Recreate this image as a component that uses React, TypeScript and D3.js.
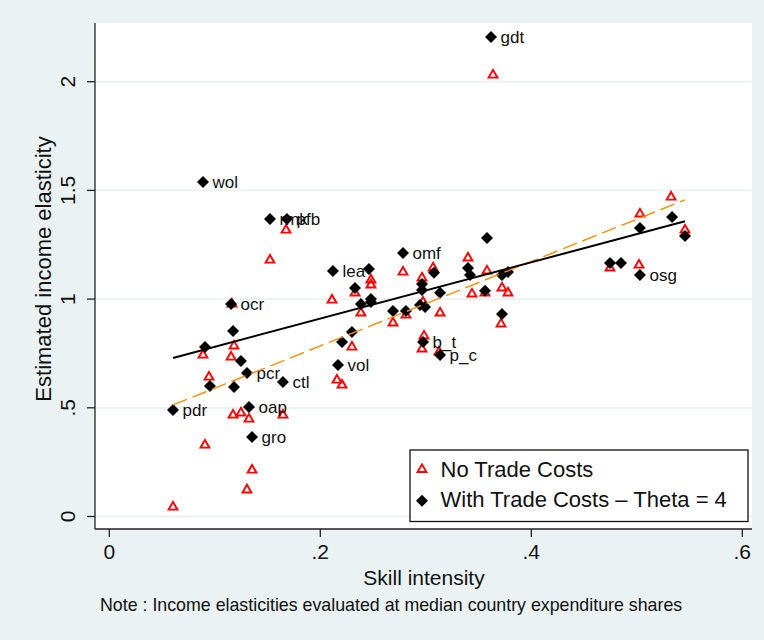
import React from "react";
import * as d3 from "d3";

// Skill intensity (x) and estimated income elasticity (y), no trade costs
const noTradeX = [
  0.1675, 0.1523, 0.2784, 0.2964, 0.248, 0.248, 0.3637, 0.5325, 0.503, 0.5457,
  0.5021, 0.4746, 0.34, 0.3069, 0.358, 0.2329, 0.2111, 0.2385, 0.2812, 0.2689,
  0.2974, 0.3135, 0.3438, 0.3561, 0.3722, 0.3779, 0.3713, 0.23, 0.2983, 0.2964,
  0.3125, 0.2158, 0.2206, 0.1182, 0.0888, 0.1154, 0.0945, 0.1173, 0.1248, 0.1324,
  0.1646, 0.0907, 0.1353, 0.1305, 0.0604, 0.1163,
];
const noTradeY = [
  1.322, 1.184, 1.129, 1.102, 1.093, 1.07, 2.035, 1.474, 1.396, 1.322,
  1.161, 1.148, 1.194, 1.148, 1.134, 1.033, 1.0, 0.941, 0.931, 0.895,
  0.991, 0.941, 1.028, 1.033, 1.056, 1.033, 0.89, 0.784, 0.835, 0.775,
  0.761, 0.632, 0.609, 0.789, 0.747, 0.738, 0.646, 0.471, 0.481, 0.453,
  0.471, 0.333, 0.218, 0.127, 0.048, 0.982,
];

// With trade costs (theta = 4); labelled sectors first
const withTradeX = [
  0.3618, 0.0888, 0.1523, 0.1684, 0.2784, 0.212, 0.1154, 0.1305, 0.1646, 0.2168,
  0.2974, 0.3135, 0.0604, 0.1324, 0.1353, 0.503,
  0.1173, 0.0907, 0.1248, 0.0954, 0.1182, 0.358, 0.2461, 0.2329, 0.3078, 0.2964,
  0.2964, 0.34, 0.3419, 0.3561, 0.3135, 0.248, 0.248, 0.2385, 0.2689, 0.2812,
  0.2945, 0.2993, 0.23, 0.2206, 0.3722, 0.3722, 0.3779, 0.4746, 0.485, 0.503,
  0.5334, 0.5457,
];
const withTradeY = [
  2.206, 1.539, 1.368, 1.368, 1.212, 1.129, 0.977, 0.66, 0.619, 0.697,
  0.803, 0.743, 0.49, 0.504, 0.366, 1.111,
  0.853, 0.78, 0.715, 0.6, 0.596, 1.281, 1.138, 1.051, 1.121, 1.07,
  1.042, 1.143, 1.111, 1.038, 1.029, 1.0, 0.987, 0.977, 0.945, 0.945,
  0.973, 0.964, 0.849, 0.803, 0.931, 1.111, 1.125, 1.166, 1.166, 1.327,
  1.378, 1.29,
];
const withTradeLabel = [
  "gdt", "wol", "rmk", "pfb", "omf", "lea", "ocr", "pcr", "ctl", "vol",
  "b_t", "p_c", "pdr", "oap", "gro", "osg",
];

// Linear fits: [intercept, slope]
const fitNoTrade = [0.396, 1.943];
const fitWithTrade = [0.651, 1.296];

const xTicks = [0, 0.2, 0.4, 0.6];
const xTickLabels = ["0", ".2", ".4", ".6"];
const yTicks = [0, 0.5, 1, 1.5, 2];
const yTickLabels = ["0", ".5", "1", "1.5", "2"];

const legendLabels = ["No Trade Costs", "With Trade Costs \u2013 Theta = 4"];

const W = 764;
const H = 640;
const BG = "#eaf2f3";
const FONT = "'Liberation Sans', Arial, Helvetica, sans-serif";

const plot = { left: 95, right: 752, top: 23, bottom: 529 };

const x = d3.scaleLinear().domain([0, 0.6]).range([109.3, 742.3]);
const y = d3.scaleLinear().domain([0, 2]).range([516.5, 81.7]);

const triPath = d3.symbol(d3.symbolTriangle, 34)() as string;
const diaPath = d3.symbol(d3.symbolSquare, 72)() as string;

function fitLine(coef: number[], xs: number[]) {
  const [x0, x1] = d3.extent(xs) as [number, number];
  const line = d3
    .line<number>()
    .x((v) => x(v))
    .y((v) => y(coef[0] + coef[1] * v));
  return line([x0, x1]) as string;
}

function Triangle({ cx, cy }: { cx: number; cy: number }) {
  return (
    <path
      d={triPath}
      transform={`translate(${cx},${cy + 1})`}
      fill="none"
      stroke="#ff0000"
      strokeWidth={1.9}
    />
  );
}

function Diamond({ cx, cy }: { cx: number; cy: number }) {
  return (
    <path d={diaPath} transform={`translate(${cx},${cy}) rotate(45)`} fill="#000" />
  );
}

export default function App() {
  return (
    <svg
      width={W}
      height={H}
      viewBox={`0 0 ${W} ${H}`}
      style={{ position: "absolute", left: 0, top: 0, display: "block" }}
      fontFamily={FONT}
    >
      <rect x={0} y={0} width={W} height={H} fill={BG} />
      <rect
        x={plot.left}
        y={plot.top}
        width={plot.right - plot.left}
        height={plot.bottom - plot.top}
        fill="#fff"
      />

      {/* horizontal grid */}
      {yTicks.map((t) => (
        <line
          key={`g${t}`}
          x1={plot.left}
          x2={plot.right}
          y1={y(t)}
          y2={y(t)}
          stroke={BG}
          strokeWidth={1.8}
        />
      ))}

      {/* axes */}
      <line x1={plot.left} x2={plot.left} y1={plot.top} y2={plot.bottom} stroke="#222" strokeWidth={1.3} />
      <line x1={plot.left} x2={plot.right} y1={plot.bottom} y2={plot.bottom} stroke="#222" strokeWidth={1.3} />

      {yTicks.map((t, i) => (
        <g key={`yt${t}`}>
          <line x1={plot.left - 8} x2={plot.left} y1={y(t)} y2={y(t)} stroke="#222" strokeWidth={1.3} />
          <text
            transform={`translate(75,${y(t)}) rotate(-90)`}
            textAnchor="middle"
            fontSize={21}
            fill="#111"
          >
            {yTickLabels[i]}
          </text>
        </g>
      ))}

      {xTicks.map((t, i) => (
        <g key={`xt${t}`}>
          <line x1={x(t)} x2={x(t)} y1={plot.bottom} y2={plot.bottom + 8} stroke="#222" strokeWidth={1.3} />
          <text x={x(t)} y={559} textAnchor="middle" fontSize={21} fill="#111">
            {xTickLabels[i]}
          </text>
        </g>
      ))}

      <text
        transform={`translate(51,269) rotate(-90)`}
        textAnchor="middle"
        fontSize={22}
        fill="#111"
      >
        Estimated income elasticity
      </text>
      <text x={424} y={584.5} textAnchor="middle" fontSize={21} fill="#111">
        Skill intensity
      </text>
      <text x={100} y={611} fontSize={17.8} fill="#111">
        Note : Income elasticities evaluated at median country expenditure shares
      </text>

      {/* no trade costs markers */}
      {noTradeX.map((v, i) => (
        <Triangle key={`n${i}`} cx={x(v)} cy={y(noTradeY[i])} />
      ))}

      {/* with trade costs markers and labels */}
      {withTradeX.map((v, i) => (
        <Diamond key={`w${i}`} cx={x(v)} cy={y(withTradeY[i])} />
      ))}
      {withTradeLabel.map((lab, i) => (
        <text
          key={`l${i}`}
          x={x(withTradeX[i]) + 9.5}
          y={y(withTradeY[i]) + 6}
          fontSize={17}
          fill="#111"
        >
          {lab}
        </text>
      ))}

      {/* fitted lines */}
      <path
        d={fitLine(fitNoTrade, noTradeX)}
        fill="none"
        stroke="#ff8c00"
        strokeWidth={1.4}
        strokeDasharray="15,6"
      />
      <path d={fitLine(fitWithTrade, withTradeX)} fill="none" stroke="#000" strokeWidth={2} />

      {/* legend */}
      <rect x={410} y={450} width={338} height={71.5} fill="#fff" stroke="#111" strokeWidth={1.3} />
      <Triangle cx={422} cy={468.5} />
      <text x={440.5} y={477.3} fontSize={22} fill="#111">
        {legendLabels[0]}
      </text>
      <Diamond cx={422} cy={500.7} />
      <text x={440.5} y={507.3} fontSize={22} fill="#111">
        {legendLabels[1]}
      </text>
    </svg>
  );
}
